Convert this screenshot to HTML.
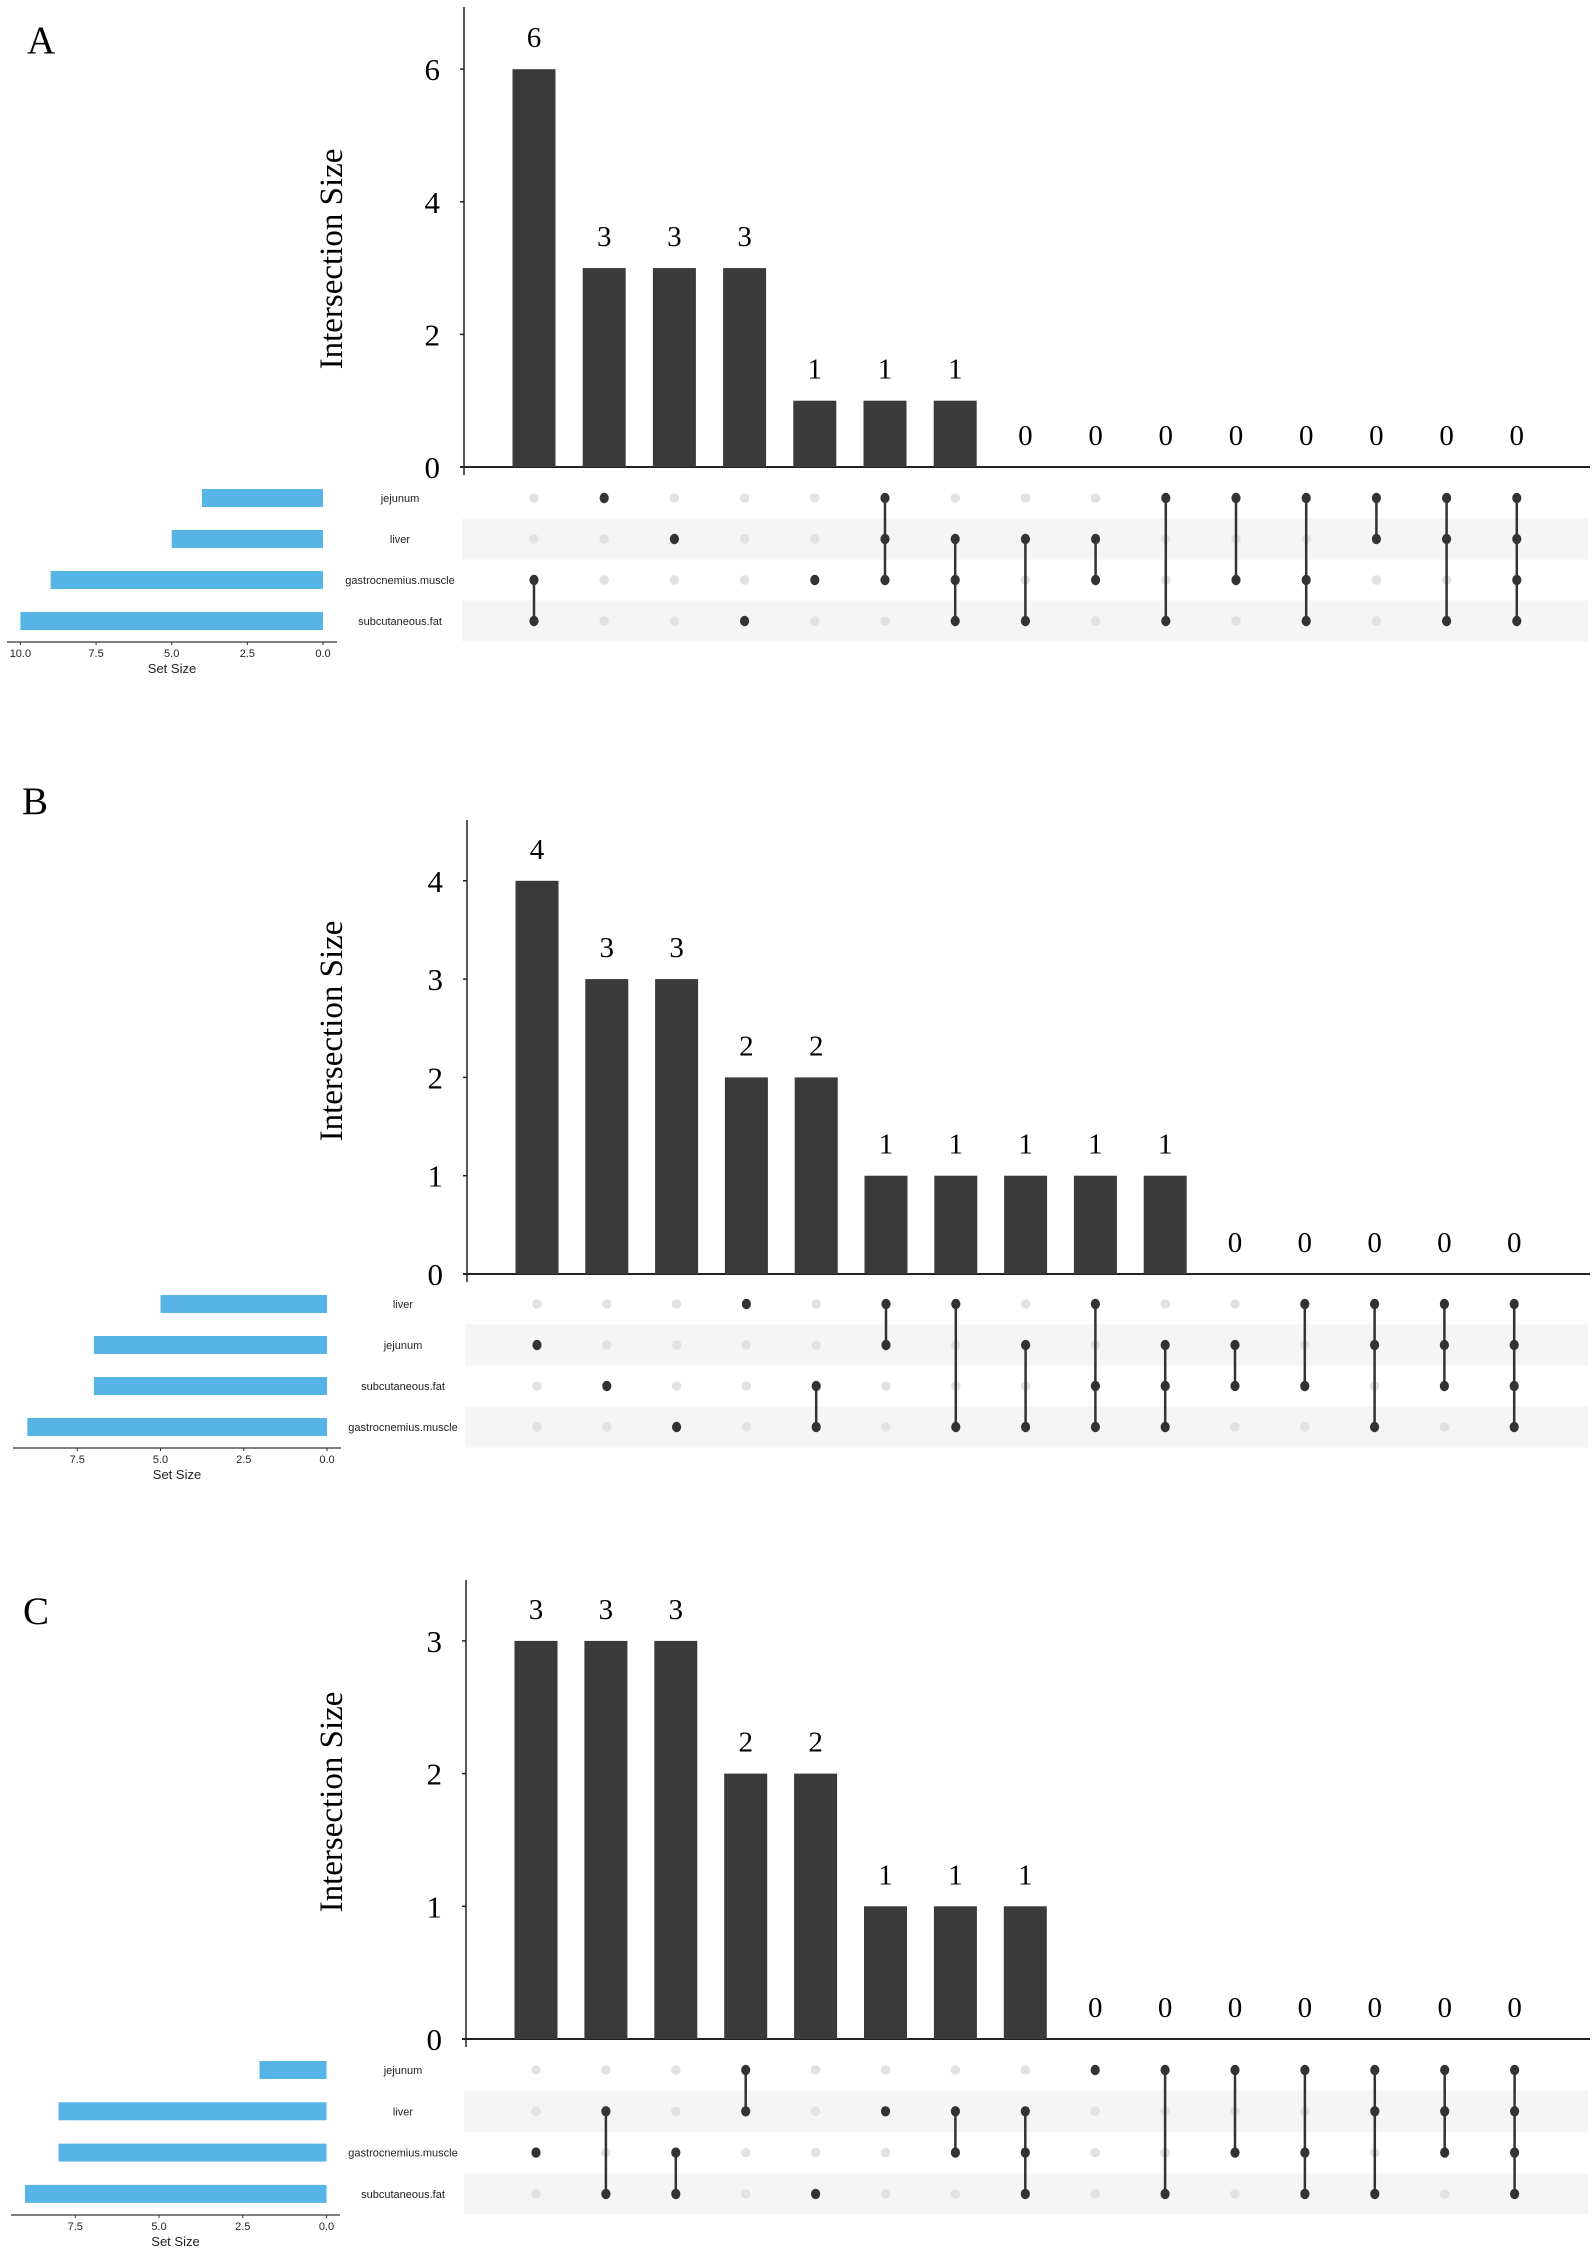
<!DOCTYPE html>
<html><head><meta charset="utf-8"><style>
html,body{margin:0;padding:0;background:#fff;}
svg{display:block;}
.ser{font-family:"Liberation Serif",serif;fill:#000;}
.san{font-family:"Liberation Sans",sans-serif;fill:#222;}
</style></head><body>
<svg id="fig" width="1595" height="2250" viewBox="0 0 1595 2250" xmlns="http://www.w3.org/2000/svg"></svg>
<script>
// Panel A data
const setsA = ["jejunum","liver","gastrocnemius.muscle","subcutaneous.fat"];
const setSizesA = [4,5,9,10];
const valuesA = [6,3,3,3,1,1,1,0,0,0,0,0,0,0,0];
const membersA = [[2,3],[0],[1],[3],[2],[0,1,2],[1,2,3],[1,3],[1,2],[0,3],[0,2],[0,2,3],[0,1],[0,1,3],[0,1,2,3]];
const yTicksA = [0,2,4,6];
const setTicksA = [10,7.5,5,2.5,0];
// Panel B data
const setsB = ["liver","jejunum","subcutaneous.fat","gastrocnemius.muscle"];
const setSizesB = [5,7,7,9];
const valuesB = [4,3,3,2,2,1,1,1,1,1,0,0,0,0,0];
const membersB = [[1],[2],[3],[0],[2,3],[0,1],[0,3],[1,3],[0,2,3],[1,2,3],[1,2],[0,2],[0,1,3],[0,1,2],[0,1,2,3]];
const yTicksB = [0,1,2,3,4];
const setTicksB = [7.5,5,2.5,0];
// Panel C data
const setsC = ["jejunum","liver","gastrocnemius.muscle","subcutaneous.fat"];
const setSizesC = [2,8,8,9];
const valuesC = [3,3,3,2,2,1,1,1,0,0,0,0,0,0,0];
const membersC = [[2],[1,3],[2,3],[0,1],[3],[1],[1,2],[1,2,3],[0],[0,3],[0,2],[0,2,3],[0,1,3],[0,1,2],[0,1,2,3]];
const yTicksC = [0,1,2,3];
const setTicksC = [7.5,5,2.5,0];

const NS="http://www.w3.org/2000/svg";
const svg=document.getElementById('fig');
function mk(tag,attrs,parent){const e=document.createElementNS(NS,tag);for(const k in attrs)e.setAttribute(k,attrs[k]);(parent||svg).appendChild(e);return e;}

function panel(cfg){
  const g=mk('g',{});
  
  
  const lab=mk('text',{x:cfg.letterX,y:cfg.letterY,'font-size':39,class:'ser'},g);
  lab.textContent=cfg.letter;
  
  
  const y0=cfg.y0, unit=cfg.unit, ax=cfg.axisX;
  const yS=v=>y0-v*unit;
  const xS=i=>cfg.col0+i*cfg.colStep;
  const rowY=r=>cfg.row0+r*cfg.rowStep;
  // bands
  [1,3].forEach(r=>{
    const b=mk('rect',{x:ax-2,y:rowY(r)-cfg.rowStep/2,width:1590-ax,height:cfg.rowStep,fill:'#f5f5f5'},g);
    
    
  });
  // y axis
  const ya=mk('line',{x1:ax,y1:cfg.axisTop,x2:ax,y2:y0+8,stroke:'#222','stroke-width':1.5},g);
  
  
  const xa=mk('line',{x1:ax-4,y1:y0,x2:1590,y2:y0,stroke:'#222','stroke-width':2},g);
  
  
  cfg.ticks.forEach(t=>{
    mk('line',{x1:ax-4,y1:yS(t),x2:ax,y2:yS(t),stroke:'#222','stroke-width':1.5},g);
    const tl=mk('text',{x:ax-24,y:yS(t)+11,'font-size':31,'text-anchor':'end',class:'ser'},g);
    tl.textContent=t;
    
    
  });
  const yt=mk('text',{x:0,y:0,'font-size':33,'text-anchor':'middle',class:'ser',transform:`translate(${cfg.titleX},${cfg.titleY}) rotate(-90)`},g);
  yt.textContent='Intersection Size';
  
  
  // bars
  const bw=43;
  cfg.values.forEach((v,i)=>{
    if(v>0){
      const r=mk('rect',{x:xS(i)-bw/2,y:yS(v),width:bw,height:v*unit,fill:'#3a3a3a'},g);
      
      
    }
    const t=mk('text',{x:xS(i),y:yS(v)-22,'font-size':29,'text-anchor':'middle',class:'ser'},g);
    t.textContent=v;
    
    
  });
  // matrix
  cfg.members.forEach((m,i)=>{
    for(let r=0;r<4;r++){
      if(!m.includes(r)){
        const d=mk('circle',{cx:xS(i),cy:rowY(r),r:4.8,fill:'#e2e2e2'},g);
        
        
      }
    }
    if(m.length>1){
      const l=mk('line',{x1:xS(i),y1:rowY(Math.min(...m)),x2:xS(i),y2:rowY(Math.max(...m)),stroke:'#333','stroke-width':2.5},g);
      
      
    }
    m.forEach(r=>{
      const d=mk('ellipse',{cx:xS(i),cy:rowY(r),rx:4.6,ry:5.2,fill:'#333'},g);
      
      
    });
  });
  // set labels + set-size bars
  const sx=v=>cfg.set0-v*cfg.setUnit;
  cfg.sets.forEach((s,r)=>{
    const t=mk('text',{x:cfg.labelX,y:rowY(r)+4,'font-size':11,'text-anchor':'middle',class:'san'},g);
    t.textContent=s;
    
    
    const b=mk('rect',{x:sx(cfg.setSizes[r]),y:rowY(r)-9,width:cfg.setSizes[r]*cfg.setUnit,height:18,fill:'#56b4e6'},g);
    
    
  });
  const ay=cfg.setAxisY;
  const sa=mk('line',{x1:cfg.setAxisX1,y1:ay,x2:cfg.setAxisX2,y2:ay,stroke:'#333','stroke-width':1.3},g);
  
  
  cfg.setTicks.forEach(t=>{
    mk('line',{x1:sx(t),y1:ay,x2:sx(t),y2:ay+3,stroke:'#333','stroke-width':1},g);
    const tl=mk('text',{x:sx(t),y:ay+15,'font-size':11,'text-anchor':'middle',class:'san',fill:'#555'},g);
    tl.textContent=t.toFixed(1);
    
    
  });
  const st=mk('text',{x:(cfg.setAxisX1+cfg.setAxisX2)/2,y:ay+31,'font-size':13,'text-anchor':'middle',class:'san'},g);
  st.textContent='Set Size';
  
  
}

panel({letter:'A',letterX:27,letterY:53,axisTop:7,y0:467,unit:66.3,axisX:464,col0:534,colStep:70.2,
  row0:498,rowStep:41,ticks:yTicksA,values:valuesA,members:membersA,sets:setsA,setSizes:setSizesA,
  titleX:342,titleY:259,labelX:400,set0:323,setUnit:30.26,setAxisY:642,setAxisX1:7,setAxisX2:337,setTicks:setTicksA});
panel({letter:'B',letterX:22,letterY:814,axisTop:820,y0:1274,unit:98.3,axisX:467,col0:537,colStep:69.8,
  row0:1304,rowStep:41,ticks:yTicksB,values:valuesB,members:membersB,sets:setsB,setSizes:setSizesB,
  titleX:342,titleY:1031,labelX:403,set0:327,setUnit:33.3,setAxisY:1448,setAxisX1:13,setAxisX2:341,setTicks:setTicksB});
panel({letter:'C',letterX:23,letterY:1624,axisTop:1580,y0:2039,unit:132.7,axisX:466,col0:536,colStep:69.9,
  row0:2070,rowStep:41.3,ticks:yTicksC,values:valuesC,members:membersC,sets:setsC,setSizes:setSizesC,
  titleX:342,titleY:1802,labelX:403,set0:326.5,setUnit:33.5,setAxisY:2215,setAxisX1:11,setAxisX2:340,setTicks:setTicksC});
</script>
</body></html>
